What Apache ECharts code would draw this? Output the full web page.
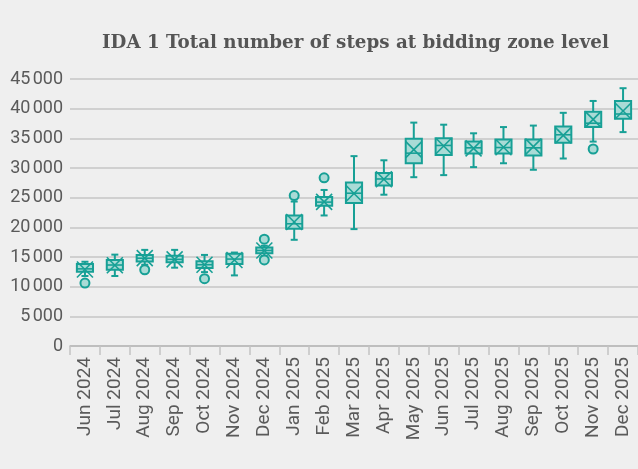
<!DOCTYPE html>
<html>
<head>
<meta charset="utf-8">
<script src="https://cdn.jsdelivr.net/npm/echarts@6/dist/echarts.min.js"></script>
<style>
  html, body { margin: 0; padding: 0; background: #efefef; }
  #chart { width: 638px; height: 469px; }
</style>
</head>
<body>
<div id="chart"></div>
<script>
// Monthly distribution of IDA 1 steps
const categories = ['Jun 2024','Jul 2024','Aug 2024','Sep 2024','Oct 2024','Nov 2024','Dec 2024',
  'Jan 2025','Feb 2025','Mar 2025','Apr 2025','May 2025','Jun 2025','Jul 2025','Aug 2025',
  'Sep 2025','Oct 2025','Nov 2025','Dec 2025'];
const whiskerLow  = [11800,11800,13700,13200,12450,11900,15200,17900,22000,19700,25500,28450,28800,30150,30800,29700,31600,34450,36050];
const quartile1   = [12500,12850,14250,14100,13150,13800,15650,19750,23650,24100,27050,30800,32200,32450,32450,32100,34250,36900,38300];
const medians     = [13000,13650,14800,14600,13700,14650,16100,20600,24250,25750,28150,32500,33800,33400,33450,33400,35600,37550,39100];
const quartile3   = [13800,14500,15350,15200,14300,15550,16600,22000,25100,27550,29150,34950,35000,34450,34800,34800,37000,39500,41300];
const whiskerHigh = [14200,15400,16200,16200,15350,15750,16900,24350,26300,32000,31300,37650,37300,35850,36900,37150,39300,41300,43450];
const means       = [12900,13600,14800,14600,13700,14500,16100,20900,24300,25700,28100,33100,33700,33300,33500,33600,35500,38200,39600];
// Outliers: month index and value
const outlierMonth = [0, 2, 4, 6, 6, 7, 8, 17];
const outlierValue = [10600, 12850, 11350, 18000, 14500, 25350, 28350, 33200];
const yTicks = { min: 0, max: 45000, interval: 5000 };

const STROKE = '#17a096';
const FILL = '#a9dbd6';

const boxData = categories.map((c, i) => [i, whiskerLow[i], quartile1[i], medians[i], quartile3[i], whiskerHigh[i], means[i]]);
const outlierData = outlierMonth.map((m, i) => [m, outlierValue[i]]);

function renderBox(params, api) {
  const idx = api.value(0);
  const pLow = api.coord([idx, api.value(1)]);
  const pQ1 = api.coord([idx, api.value(2)]);
  const pMed = api.coord([idx, api.value(3)]);
  const pQ3 = api.coord([idx, api.value(4)]);
  const pHigh = api.coord([idx, api.value(5)]);
  const pMean = api.coord([idx, api.value(6)]);
  const cx = pMed[0];
  const bw = api.size([1, 0])[0] * 0.54;
  const half = bw / 2;
  const cap = 3.5;
  const xs = 8;
  const line = { stroke: STROKE, lineWidth: 2 };
  return {
    type: 'group',
    children: [
      { type: 'line', shape: { x1: cx, y1: pHigh[1], x2: cx, y2: pQ3[1] }, style: line },
      { type: 'line', shape: { x1: cx, y1: pQ1[1], x2: cx, y2: pLow[1] }, style: line },
      { type: 'line', shape: { x1: cx - cap, y1: pHigh[1], x2: cx + cap, y2: pHigh[1] }, style: line },
      { type: 'line', shape: { x1: cx - cap, y1: pLow[1], x2: cx + cap, y2: pLow[1] }, style: line },
      { type: 'rect', shape: { x: cx - half, y: pQ3[1], width: bw, height: pQ1[1] - pQ3[1] },
        style: { fill: FILL, stroke: STROKE, lineWidth: 2 } },
      { type: 'line', shape: { x1: cx - half, y1: pMed[1], x2: cx + half, y2: pMed[1] },
        style: { stroke: STROKE, lineWidth: 1.6 } },
      { type: 'line', shape: { x1: cx - xs, y1: pMean[1] - xs, x2: cx + xs, y2: pMean[1] + xs },
        style: { stroke: STROKE, lineWidth: 1.6 } },
      { type: 'line', shape: { x1: cx - xs, y1: pMean[1] + xs, x2: cx + xs, y2: pMean[1] - xs },
        style: { stroke: STROKE, lineWidth: 1.6 } }
    ]
  };
}

const chart = echarts.init(document.getElementById('chart'), null, { renderer: 'canvas' });
chart.setOption({
  backgroundColor: '#efefef',
  animation: false,
  title: {
    text: 'IDA 1 Total number of steps at bidding zone level',
    left: 97,
    top: 29,
    textStyle: { fontFamily: 'DejaVu Serif', fontWeight: 'bold', fontSize: 18.3, color: '#555555' }
  },
  grid: { left: 70, right: -2, top: 79, bottom: 123, containLabel: false },
  xAxis: {
    type: 'category',
    data: categories,
    boundaryGap: true,
    axisLine: { lineStyle: { color: '#b8b8b8', width: 1.5 } },
    axisTick: { show: true, alignWithLabel: false, length: 9, lineStyle: { color: '#c4c4c4', width: 1.5 } },
    axisLabel: { rotate: 90, interval: 0, margin: 11, fontFamily: 'Roboto', fontSize: 19, color: '#5a5a5a' }
  },
  yAxis: {
    type: 'value',
    min: yTicks.min, max: yTicks.max, interval: yTicks.interval,
    axisLine: { show: false },
    axisTick: { show: false },
    splitLine: { lineStyle: { color: '#c6c6c6', width: 1.5 } },
    axisLabel: {
      margin: 7, fontFamily: 'Roboto', fontSize: 18, color: '#5a5a5a',
      formatter: v => v >= 1000 ? Math.floor(v / 1000) + '\u202F' + String(v % 1000).padStart(3, '0') : String(v)
    }
  },
  series: [
    {
      type: 'custom',
      renderItem: renderBox,
      data: boxData,
      encode: { x: 0, y: [1, 2, 3, 4, 5, 6] },
      z: 3
    },
    {
      type: 'scatter',
      data: outlierData,
      symbol: 'circle',
      symbolSize: 9,
      itemStyle: { color: FILL, borderColor: STROKE, borderWidth: 2, opacity: 1 },
      z: 4
    }
  ]
});
</script>
</body>
</html>
